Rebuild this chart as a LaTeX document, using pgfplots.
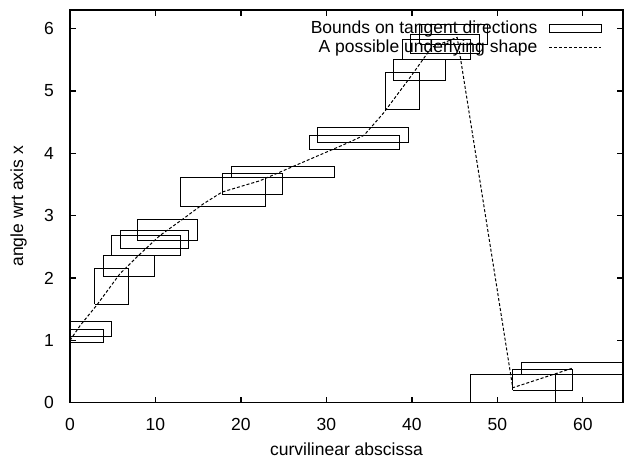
\documentclass[border=0pt]{standalone}
\usepackage{fontspec}
\setmainfont{Liberation Sans}
\usepackage{pgfplots}
\pgfplotsset{compat=1.18}
\pgfplotsset{
    boxlegend/.style={legend image code/.code={\path (0pt,0pt); \draw[black, line width=1pt] (9pt,-4.3pt) rectangle (61pt,4.3pt);}},
    dashlegend/.style={legend image code/.code={\path (0pt,0pt); \draw[black, line width=1pt, dash pattern=on 3pt off 2pt] (9pt,0pt) -- (61pt,0pt);}},
}

\begin{document}
\fontsize{17.5}{20}\selectfont
\begin{tikzpicture}
\begin{axis}[
    name=main,
    scale only axis,
    width=553pt,
    height=392.7pt,
    xmin=0, xmax=64.7,
    ymin=0, ymax=6.3,
    xtick={0,10,...,60},
    ytick={0,1,...,6},
    tick align=inside,
    major tick length=6pt,
    axis line style={line width=1.5pt},
    every tick/.style={black, line width=1.3pt},
    /pgf/number format/assume math mode=true,
    ticklabel style={font=\fontsize{17.5}{20}\selectfont},
    xticklabel style={yshift=-10pt},
    yticklabel style={xshift=-10pt},
    xlabel={curvilinear abscissa},
    ylabel={angle wrt axis x},
    xlabel style={at={(axis description cs:0.5,-0.119)}, anchor=center},
    ylabel style={at={(axis description cs:-0.093,0.5)}, anchor=center},
    label style={font=\fontsize{17.5}{20}\selectfont},
    unbounded coords=jump,
    legend cell align=right,
    legend plot pos=right,
    legend style={draw=none, fill=none, at={(0.9615,0.978)}, anchor=north east,
        inner sep=0pt, row sep=0pt, font=\fontsize{17.5}{20}\selectfont},
]
% rectangles: bounds on tangent directions (x1,y1)(x2,y1)(x2,y2)(x1,y2)(x1,y1)
\addplot[black, line width=1pt, mark=none, boxlegend]
coordinates {
(-1,0.96) (3.95,0.96) (3.95,1.17) (-1,1.17) (-1,0.96) (nan,nan)
(-1,1.06) (4.9,1.06) (4.9,1.30) (-1,1.30) (-1,1.06) (nan,nan)
(2.9,1.58) (6.9,1.58) (6.9,2.16) (2.9,2.16) (2.9,1.58) (nan,nan)
(3.9,2.03) (9.9,2.03) (9.9,2.36) (3.9,2.36) (3.9,2.03) (nan,nan)
(4.9,2.36) (12.9,2.36) (12.9,2.68) (4.9,2.68) (4.9,2.36) (nan,nan)
(5.85,2.47) (13.9,2.47) (13.9,2.76) (5.85,2.76) (5.85,2.47) (nan,nan)
(7.9,2.60) (14.9,2.60) (14.9,2.94) (7.9,2.94) (7.9,2.60) (nan,nan)
(12.9,3.15) (22.9,3.15) (22.9,3.61) (12.9,3.61) (12.9,3.15) (nan,nan)
(17.9,3.34) (24.9,3.34) (24.9,3.68) (17.9,3.68) (17.9,3.34) (nan,nan)
(18.9,3.61) (30.9,3.61) (30.9,3.79) (18.9,3.79) (18.9,3.61) (nan,nan)
(28.0,4.06) (38.6,4.06) (38.6,4.29) (28.0,4.29) (28.0,4.06) (nan,nan)
(29.0,4.17) (39.6,4.17) (39.6,4.42) (29.0,4.42) (29.0,4.17) (nan,nan)
(36.9,4.71) (40.9,4.71) (40.9,5.30) (36.9,5.30) (36.9,4.71) (nan,nan)
(37.8,5.17) (43.9,5.17) (43.9,5.50) (37.8,5.50) (37.8,5.17) (nan,nan)
(38.9,5.50) (46.9,5.50) (46.9,5.82) (38.9,5.82) (38.9,5.50) (nan,nan)
(39.8,5.60) (47.9,5.60) (47.9,5.91) (39.8,5.91) (39.8,5.60) (nan,nan)
(40.9,5.75) (48.9,5.75) (48.9,6.07) (40.9,6.07) (40.9,5.75) (nan,nan)
(46.9,-0.3) (56.8,-0.3) (56.8,0.46) (46.9,0.46) (46.9,-0.3) (nan,nan)
(56.8,-0.3) (70,-0.3) (70,0.46) (56.8,0.46) (56.8,-0.3) (nan,nan)
(51.8,0.20) (58.8,0.20) (58.8,0.54) (51.8,0.54) (51.8,0.20) (nan,nan)
(52.8,0.46) (70,0.46) (70,0.65) (52.8,0.65) (52.8,0.46)
};
\addlegendentry{Bounds on tangent directions}

% dashed curve: a possible underlying shape
\addplot[black, line width=1pt, mark=none, dash pattern=on 3pt off 2pt, dashlegend]
coordinates {
(0,1.00) (1.2,1.24) (3.1,1.56) (5.85,2.07) (8,2.36) (10.5,2.68)
(13.25,2.95) (15.6,3.19) (17.8,3.38) (22.2,3.56) (26.1,3.79)
(30,4.02) (32.7,4.18) (34.4,4.29) (36.7,4.65) (39.8,5.22)
(42.3,5.70) (45.3,5.86) (51.8,0.24) (58.7,0.55)
};
\addlegendentry{A possible underlying shape}
\end{axis}
\pgfresetboundingbox
\path ([shift={(-70pt,-57pt)}]main.south west) rectangle ([shift={(1pt,10pt)}]main.north east);
\end{tikzpicture}
\end{document}
